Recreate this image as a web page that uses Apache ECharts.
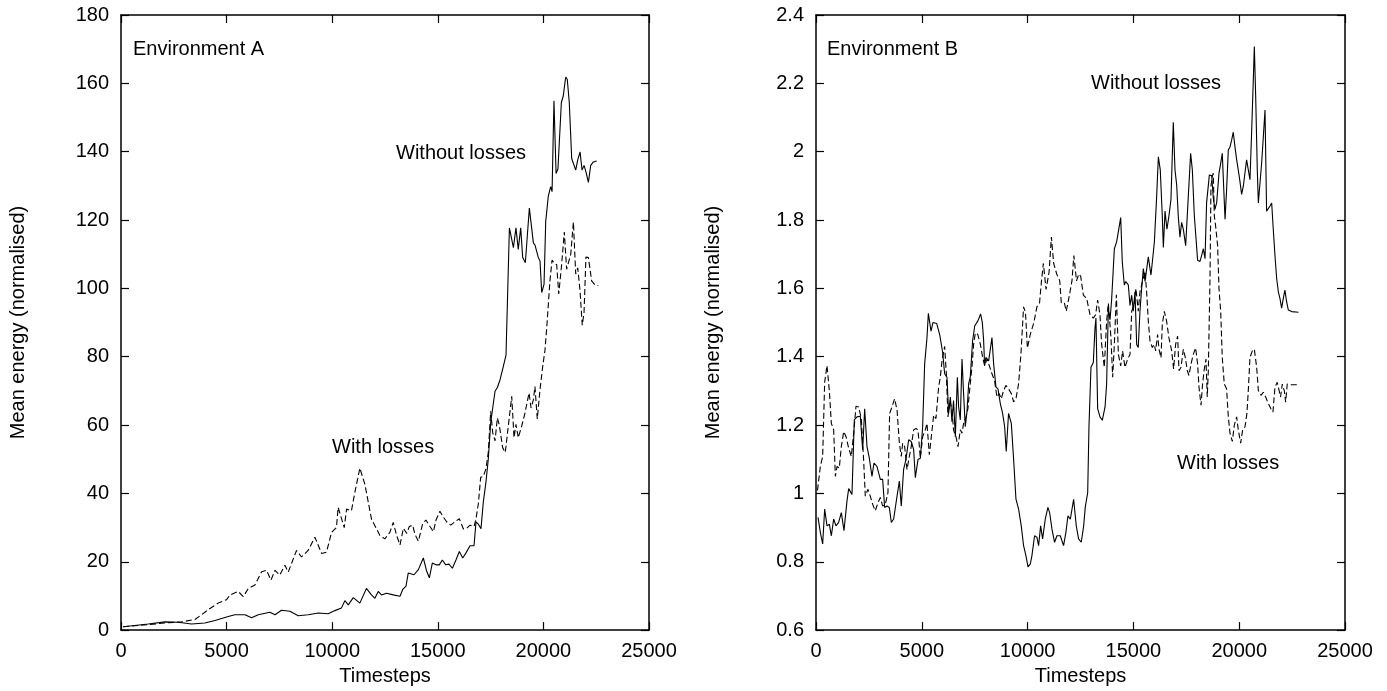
<!DOCTYPE html>
<html>
<head>
<meta charset="utf-8">
<script src="https://cdn.jsdelivr.net/npm/echarts@6/dist/echarts.min.js"></script>
<style>
html,body{margin:0;padding:0;background:#fff;}
#chart{width:1387px;height:691px;}
</style>
</head>
<body>
<div id="chart"></div>
<script>
// ---- Data ----
const xTicks = [0, 5000, 10000, 15000, 20000, 25000];
const yTicksA = [0, 20, 40, 60, 80, 100, 120, 140, 160, 180];
const yTicksB = [0.6, 0.8, 1, 1.2, 1.4, 1.6, 1.8, 2, 2.2, 2.4];

const envAWithout = [[100,1.0],[1290,1.8],[2080,2.4],[2710,2.3],[3340,1.8],[3970,2.1],[4450,2.8],[5080,4.0],[5390,4.5],[5870,4.5],[6180,3.6],[6500,4.5],[7050,5.2],[7290,4.5],[7600,5.8],[8000,5.5],[8390,4.2],[8860,4.5],[9340,5.0],[9810,4.8],[10130,5.7],[10440,6.5],[10600,8.6],[10760,7.4],[11000,9.5],[11310,7.9],[11620,12.2],[11860,10.3],[12020,9.3],[12180,11.3],[12330,10.3],[12570,10.8],[12890,10.3],[13210,9.9],[13340,11.9],[13495,12.9],[13600,16.7],[13685,17.2],[13875,16.2],[14080,17.7],[14315,21.1],[14475,17.2],[14600,15.3],[14740,19.6],[14915,19.1],[15070,19.1],[15215,20.5],[15375,19.1],[15530,19.3],[15690,18.1],[15860,20.5],[16020,23.0],[16180,21.1],[16335,22.6],[16525,24.7],[16715,24.7],[16810,31.7],[16920,31.0],[17045,29.7],[17155,37.5],[17280,43.3],[17390,50.0],[17505,60.7],[17600,65.0],[17710,69.9],[17820,71.0],[17945,73.2],[18100,77.1],[18230,80.5],[18390,117.7],[18580,111.9],[18700,117.7],[18810,111.4],[18925,117.7],[19020,109.0],[19145,107.5],[19335,123.5],[19415,123.0],[19525,113.3],[19600,112.7],[19760,109.0],[19840,108.0],[19920,98.8],[20030,101.2],[20110,119.6],[20230,126.9],[20345,129.8],[20410,128.3],[20500,154.9],[20600,133.6],[20690,135.0],[20850,154.4],[20940,156.3],[21055,161.8],[21130,161.2],[21225,154.4],[21340,138.0],[21420,138.5],[21530,134.6],[21625,137.6],[21735,139.9],[21830,134.6],[21925,136.0],[22015,134.1],[22130,131.0],[22240,136.0],[22365,137.0],[22525,137.3]];

const envAWith = [[100,1.0],[1290,1.6],[2080,2.1],[2870,2.4],[3500,3.1],[3820,4.5],[4130,6.0],[4600,7.9],[5000,8.9],[5160,10.3],[5550,11.3],[5790,9.8],[6030,12.2],[6340,13.2],[6660,17.1],[6890,17.5],[7100,14.6],[7290,17.5],[7520,16.1],[7760,19.0],[7920,17.0],[8310,23.3],[8550,21.4],[8860,23.3],[9180,27.2],[9500,22.4],[9730,22.8],[9970,28.6],[10200,30.0],[10280,35.9],[10570,30.0],[10680,35.4],[10910,34.9],[11070,40.2],[11310,47.4],[11550,42.6],[11860,32.5],[12260,27.7],[12490,26.7],[12730,28.6],[12890,31.5],[13050,27.7],[13210,24.9],[13370,29.8],[13530,28.3],[13650,30.3],[13810,30.7],[13920,28.0],[14080,26.0],[14285,31.2],[14440,32.2],[14630,30.3],[14790,28.8],[14915,32.2],[15100,34.8],[15260,33.1],[15420,31.7],[15610,30.7],[15815,31.7],[16020,32.6],[16210,29.6],[16370,29.8],[16525,30.7],[16715,30.3],[16810,32.6],[16920,37.0],[17030,44.7],[17155,45.0],[17280,47.2],[17390,52.0],[17505,64.0],[17600,57.8],[17710,55.4],[17820,62.1],[17910,60.1],[18070,53.4],[18195,52.0],[18340,59.8],[18500,68.4],[18610,56.3],[18700,60.2],[18810,56.3],[18975,59.8],[19130,63.6],[19320,69.4],[19415,65.0],[19525,67.4],[19600,71.3],[19710,61.8],[19840,70.4],[19965,77.1],[20075,81.9],[20160,88.7],[20310,102.2],[20410,108.3],[20500,107.5],[20630,106.9],[20725,98.4],[20850,106.0],[20990,116.5],[21100,105.6],[21295,110.0],[21420,119.4],[21530,104.2],[21625,106.0],[21735,99.3],[21840,89.2],[21925,93.0],[22015,109.2],[22130,109.0],[22285,102.2],[22445,101.0],[22600,100.8]];

const envBWithout = [[95,0.930],[205,0.886],[315,0.852],[410,0.954],[520,0.905],[630,0.910],[725,0.876],[835,0.925],[945,0.905],[1070,0.915],[1197,0.944],[1323,0.891],[1465,0.978],[1545,1.014],[1700,0.997],[1810,1.215],[1937,1.224],[2095,1.226],[2205,1.128],[2300,1.248],[2410,1.137],[2520,1.103],[2645,1.050],[2740,1.089],[2880,1.079],[3040,1.041],[3150,1.041],[3245,0.959],[3355,0.963],[3465,0.959],[3560,0.915],[3670,0.925],[3830,0.992],[3940,1.036],[4030,0.963],[4140,1.070],[4250,1.099],[4380,1.157],[4500,1.152],[4615,1.128],[4695,1.046],[4820,1.099],[4930,1.103],[5040,1.195],[5135,1.379],[5245,1.456],[5310,1.527],[5436,1.475],[5526,1.500],[5706,1.497],[5850,1.463],[5985,1.413],[6080,1.350],[6190,1.340],[6270,1.234],[6350,1.282],[6425,1.210],[6500,1.272],[6585,1.166],[6680,1.340],[6740,1.253],[6820,1.215],[6900,1.393],[6975,1.292],[7055,1.195],[7135,1.239],[7215,1.321],[7290,1.340],[7400,1.446],[7500,1.490],[7650,1.505],[7780,1.525],[7860,1.500],[7920,1.450],[7970,1.374],[8030,1.398],[8160,1.388],[8315,1.456],[8395,1.379],[8505,1.311],[8600,1.306],[8710,1.263],[8820,1.234],[8915,1.195],[8990,1.123],[9100,1.234],[9230,1.205],[9340,1.099],[9450,0.983],[9575,0.954],[9700,0.905],[9810,0.847],[9920,0.818],[10020,0.785],[10130,0.794],[10205,0.818],[10330,0.876],[10440,0.872],[10520,0.847],[10615,0.905],[10710,0.867],[10835,0.925],[10960,0.959],[11040,0.944],[11150,0.896],[11275,0.857],[11385,0.876],[11545,0.876],[11700,0.847],[11810,0.886],[11905,0.934],[12020,0.925],[12175,0.983],[12300,0.905],[12410,0.867],[12535,0.857],[12650,0.905],[12725,0.960],[12840,1.002],[12900,1.195],[12995,1.369],[13105,1.383],[13185,1.484],[13230,1.513],[13310,1.248],[13420,1.224],[13530,1.214],[13660,1.253],[13735,1.320],[13815,1.542],[13895,1.508],[13970,1.566],[14100,1.716],[14210,1.737],[14290,1.737],[14400,1.807],[14475,1.677],[14570,1.610],[14635,1.620],[14760,1.610],[14840,1.550],[14920,1.580],[14995,1.533],[15075,1.590],[15155,1.436],[15230,1.427],[15310,1.533],[15390,1.600],[15470,1.658],[15550,1.620],[15630,1.658],[15705,1.692],[15830,1.639],[15895,1.677],[15990,1.735],[16100,1.870],[16180,1.985],[16270,1.947],[16365,1.812],[16415,1.720],[16495,1.826],[16585,1.773],[16680,1.812],[16775,1.860],[16885,2.086],[16965,1.947],[17045,1.903],[17120,1.812],[17200,1.750],[17280,1.793],[17360,1.773],[17470,1.725],[17595,1.870],[17705,1.995],[17785,1.947],[17880,1.812],[17960,1.745],[18035,1.682],[18145,1.679],[18225,1.696],[18305,1.716],[18385,1.687],[18460,1.851],[18590,1.932],[18700,1.930],[18775,1.865],[18855,1.831],[18935,1.851],[19045,1.937],[19125,1.966],[19200,1.995],[19265,1.899],[19330,1.802],[19405,1.889],[19485,2.005],[19565,2.014],[19640,2.033],[19720,2.057],[19800,2.014],[19880,1.976],[19955,1.947],[20035,1.913],[20115,1.875],[20195,1.899],[20270,1.937],[20350,1.976],[20430,1.980],[20510,1.918],[20590,2.062],[20665,2.207],[20715,2.308],[20780,2.159],[20855,1.947],[20905,1.850],[20980,1.850],[21060,1.966],[21140,2.043],[21220,2.122],[21295,1.826],[21375,1.826],[21455,1.841],[21535,1.850],[21610,1.773],[21690,1.696],[21770,1.629],[21850,1.590],[21925,1.571],[22005,1.542],[22085,1.571],[22160,1.595],[22240,1.561],[22320,1.537],[22480,1.532],[22800,1.530]];

const envBWith = [[70,1.009],[205,1.079],[315,1.108],[410,1.326],[520,1.374],[630,1.301],[725,1.205],[835,1.186],[915,1.050],[995,1.079],[1100,1.074],[1197,1.137],[1310,1.181],[1420,1.166],[1545,1.132],[1670,1.108],[1780,1.176],[1890,1.255],[2015,1.253],[2140,1.219],[2250,1.099],[2330,0.992],[2455,1.012],[2565,0.992],[2680,0.968],[2800,0.949],[2930,0.973],[3040,0.988],[3150,0.963],[3275,0.968],[3400,1.002],[3480,1.234],[3590,1.253],[3715,1.277],[3830,1.244],[3940,1.147],[4030,1.108],[4095,1.147],[4190,1.137],[4300,1.070],[4410,1.108],[4500,1.137],[4615,1.186],[4725,1.190],[4820,1.186],[4930,1.103],[5040,1.166],[5165,1.186],[5245,1.205],[5355,1.113],[5450,1.166],[5560,1.229],[5670,1.219],[5795,1.311],[5875,1.340],[5955,1.388],[6080,1.430],[6160,1.350],[6235,1.224],[6330,1.272],[6425,1.244],[6500,1.186],[6615,1.166],[6710,1.137],[6820,1.186],[6900,1.176],[6975,1.205],[7090,1.224],[7180,1.248],[7290,1.321],[7370,1.369],[7450,1.437],[7530,1.470],[7640,1.466],[7765,1.437],[7875,1.398],[7970,1.374],[8080,1.393],[8190,1.374],[8315,1.350],[8440,1.330],[8550,1.282],[8660,1.292],[8755,1.277],[8865,1.301],[8975,1.316],[9100,1.306],[9230,1.292],[9340,1.268],[9450,1.277],[9575,1.321],[9685,1.408],[9810,1.546],[9900,1.530],[9990,1.425],[10130,1.466],[10296,1.500],[10440,1.546],[10566,1.558],[10656,1.622],[10746,1.673],[10872,1.597],[11016,1.648],[11124,1.750],[11232,1.673],[11376,1.642],[11520,1.622],[11592,1.558],[11736,1.558],[11826,1.533],[11970,1.578],[12096,1.622],[12186,1.696],[12312,1.622],[12420,1.642],[12510,1.635],[12635,1.580],[12790,1.571],[12950,1.523],[13105,1.513],[13215,1.523],[13310,1.566],[13420,1.523],[13500,1.436],[13625,1.369],[13735,1.504],[13815,1.557],[13940,1.455],[14020,1.340],[14100,1.436],[14195,1.581],[14290,1.407],[14400,1.373],[14490,1.417],[14600,1.369],[14730,1.393],[14840,1.407],[14920,1.533],[15030,1.552],[15120,1.600],[15230,1.533],[15310,1.590],[15390,1.610],[15470,1.630],[15550,1.650],[15625,1.590],[15705,1.504],[15785,1.446],[15895,1.427],[15990,1.436],[16050,1.417],[16145,1.465],[16210,1.422],[16305,1.397],[16365,1.494],[16460,1.533],[16570,1.504],[16680,1.455],[16810,1.417],[16900,1.364],[16995,1.436],[17090,1.460],[17155,1.359],[17250,1.369],[17360,1.422],[17440,1.402],[17550,1.359],[17625,1.345],[17720,1.378],[17830,1.407],[17940,1.426],[18035,1.378],[18100,1.311],[18195,1.258],[18270,1.320],[18350,1.364],[18430,1.393],[18490,1.282],[18540,1.359],[18620,1.630],[18665,1.900],[18730,1.928],[18775,1.937],[18825,1.812],[18885,1.783],[18980,1.725],[19045,1.600],[19125,1.533],[19200,1.397],[19295,1.320],[19405,1.306],[19485,1.224],[19565,1.176],[19675,1.152],[19770,1.200],[19880,1.224],[19960,1.185],[20070,1.147],[20160,1.185],[20275,1.195],[20365,1.234],[20430,1.301],[20510,1.398],[20620,1.417],[20715,1.422],[20825,1.369],[20905,1.301],[21030,1.287],[21140,1.296],[21250,1.282],[21375,1.263],[21500,1.248],[21595,1.238],[21690,1.311],[21800,1.325],[21880,1.322],[21955,1.282],[22035,1.320],[22130,1.301],[22195,1.267],[22270,1.320],[22400,1.318],[22825,1.318]];

// ---- Chart ----
const FONT = '"Liberation Sans", Arial, Helvetica, sans-serif';
const chart = echarts.init(document.getElementById('chart'), null, {renderer: 'canvas'});

function plainNumber(v) { return String(parseFloat(Number(v).toFixed(4))); }

function xAx(grid, pos, withLabels) {
  return {
    gridIndex: grid, type: 'value', position: pos,
    min: xTicks[0], max: xTicks[xTicks.length - 1], interval: xTicks[1] - xTicks[0],
    axisLine: {show: true, onZero: false, lineStyle: {color: '#000', width: 1.5}},
    axisTick: {show: true, inside: true, length: 8, lineStyle: {color: '#000', width: 1.2}},
    axisLabel: {show: withLabels, color: '#000', fontSize: 20, fontFamily: FONT, margin: 11, formatter: plainNumber},
    splitLine: {show: false},
    name: withLabels ? 'Timesteps' : '',
    nameLocation: 'middle', nameGap: 31,
    nameTextStyle: {color: '#000', fontSize: 20, fontFamily: FONT}
  };
}
function yAx(grid, pos, ticks, withLabels) {
  return {
    gridIndex: grid, type: 'value', position: pos,
    min: ticks[0], max: ticks[ticks.length - 1],
    interval: Math.round((ticks[1] - ticks[0]) * 1000) / 1000,
    axisLine: {show: true, onZero: false, lineStyle: {color: '#000', width: 1.5}},
    axisTick: {show: true, inside: true, length: 8, lineStyle: {color: '#000', width: 1.2}},
    axisLabel: {show: withLabels, color: '#000', fontSize: 20, fontFamily: FONT, margin: 12, formatter: plainNumber},
    splitLine: {show: false},
    name: withLabels ? 'Mean energy (normalised)' : '',
    nameLocation: 'middle', nameGap: 93, nameRotate: 90,
    nameTextStyle: {color: '#000', fontSize: 20, fontFamily: FONT}
  };
}
function lineSeries(data, xi, yi, dashed) {
  return {
    type: 'line', data: data, xAxisIndex: xi, yAxisIndex: yi,
    showSymbol: false, symbol: 'none', smooth: false, animation: false,
    lineStyle: {color: '#000', width: 1.1, type: dashed ? [6, 3] : 'solid'},
    z: 3
  };
}
function label(text, x, y) {
  return {type: 'text', x: x, y: y, z: 10,
    style: {text: text, fill: '#000', font: '20px ' + FONT, textVerticalAlign: 'middle', verticalAlign: 'middle'}};
}

chart.setOption({
  backgroundColor: '#fff',
  animation: false,
  grid: [
    {left: 121, top: 15, width: 528, height: 621},
    {left: 816, top: 15, width: 529, height: 621}
  ],
  xAxis: [xAx(0, 'bottom', true), xAx(0, 'top', false), xAx(1, 'bottom', true), xAx(1, 'top', false)],
  yAxis: [yAx(0, 'left', yTicksA, true), yAx(0, 'right', yTicksA, false),
          yAx(1, 'left', yTicksB, true), yAx(1, 'right', yTicksB, false)],
  series: [
    lineSeries(envAWithout, 0, 0, false),
    lineSeries(envAWith, 0, 0, true),
    lineSeries(envBWithout, 2, 2, false),
    lineSeries(envBWith, 2, 2, true)
  ],
  graphic: [
    label('Environment A', 133, 49),
    label('Without losses', 396, 153),
    label('With losses', 332, 447),
    label('Environment B', 827, 49),
    label('Without losses', 1091, 83),
    label('With losses', 1177, 463)
  ]
});
</script>
</body>
</html>
